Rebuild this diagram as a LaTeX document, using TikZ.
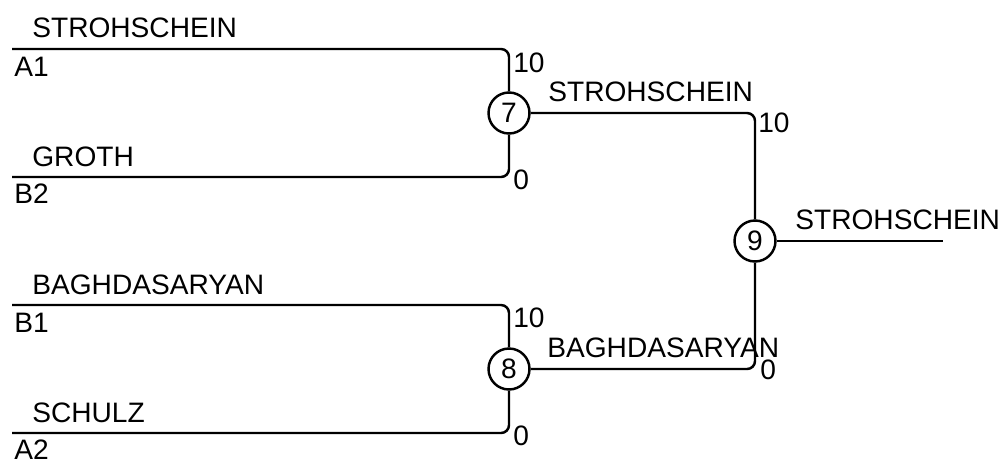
\documentclass[tikz,border=0pt]{standalone}
\usepackage{fontspec}
\setmainfont{Liberation Sans}
\tikzstyle{game}=[circle,draw,line width=1.4pt,minimum size=0.82cm,inner sep=0pt]
\tikzstyle{entrant}=[anchor=west,inner sep=0pt]
\tikzstyle{bracket}=[line width=1.4pt,rounded corners=0.16cm]

\begin{document}
\begin{tikzpicture}[x=0.02cm,y=-0.02cm,every node/.style={font=\fontsize{16pt}{19pt}\selectfont}]
\useasboundingbox (0,0) rectangle (1000,460);
\node[game] (7) at (509,113) {7};
\node[game] (8) at (509,369) {8};
\node[game] (9) at (755,241) {9};
\coordinate (A1) at (12,49);
\coordinate (B2) at (12,177);
\coordinate (B1) at (12,305);
\coordinate (A2) at (12,433);
\coordinate (win) at (943,241);
\draw[bracket] (A1) -| (7);
\draw[bracket] (B2) -| (7);
\draw[bracket] (B1) -| (8);
\draw[bracket] (A2) -| (8);
\draw[bracket] (7) -| (9);
\draw[bracket] (8) -| (9);
\draw[bracket] (9) -- (win);
\node[entrant] (n1) at (32,28) {STROHSCHEIN};
\node[entrant] (s1) at (14,67) {A1};
\node[entrant] (n2) at (32,157) {GROTH};
\node[entrant] (s2) at (14,194) {B2};
\node[entrant] (n3) at (32,285) {BAGHDASARYAN};
\node[entrant] (s3) at (14,323) {B1};
\node[entrant] (n4) at (32,413) {SCHULZ};
\node[entrant] (s4) at (14,450) {A2};
\node[entrant] (p1) at (513,63) {10};
\node[entrant] (p2) at (513,180) {0};
\node[entrant] (p3) at (513,318) {10};
\node[entrant] (p4) at (513,436) {0};
\node[entrant] (n7) at (548,92) {STROHSCHEIN};
\node[entrant] (p7) at (758,123) {10};
\node[entrant] (n8) at (547,348) {BAGHDASARYAN};
\node[entrant] (p8) at (760,370) {0};
\node[entrant] (n9) at (795,220) {STROHSCHEIN};
\end{tikzpicture}
\end{document}
